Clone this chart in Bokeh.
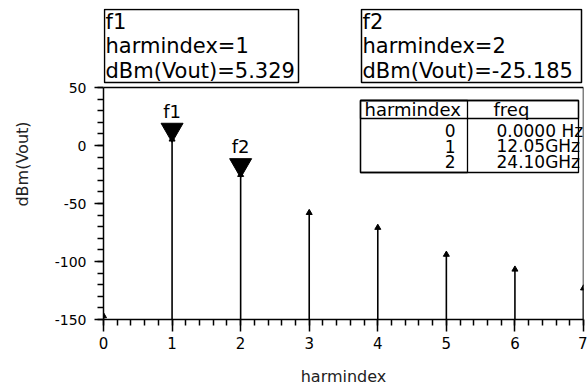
from bokeh.plotting import figure
from bokeh.models import (Range1d, SingleIntervalTicker, BoxAnnotation, Label, ColumnDataSource,
                          PrintfTickFormatter)
from bokeh.embed import file_html
from bokeh.resources import INLINE
from bokeh.core.properties import value

# ---------------- data ----------------
harmindex = [0, 1, 2, 3, 4, 5, 6, 7]
dbm_vout = [-147.0, 5.329, -25.185, -58.0, -70.8, -94.0, -106.8, -123.0]

marker_names = ["f1", "f2"]
marker_index = [1, 2]
marker_value = [5.329, -25.185]

readout_lines_f1 = ["f1", "harmindex=1", "dBm(Vout)=5.329"]
readout_lines_f2 = ["f2", "harmindex=2", "dBm(Vout)=-25.185"]

table_header = ["harmindex", "freq"]
table_harmindex = ["0", "1", "2"]
table_freq = ["0.0000 Hz", "12.05GHz", "24.10GHz"]

x_start, x_end = 0, 7
y_start, y_top = -150, 50

# ---------------- layout ----------------
W, H = 587, 390
L, R, T, B = 103, 4, 8, 71          # frame also holds the readout strip above the plot box
PLOT_TOP = 87                       # canvas y of the plot box top (y = 50)
FH = H - T - B
px_per_unit = (H - B - PLOT_TOP) / (y_top - y_start)
y_end = y_top + (PLOT_TOP - T) / px_per_unit
FONT = "DejaVu Sans"


def sx(cx):
    return cx - L


def sy(cy):
    return (H - B) - cy


p = figure(width=W, height=H, x_range=Range1d(x_start, x_end), y_range=Range1d(y_start, y_end),
           output_backend="svg", toolbar_location=None,
           min_border_left=L, min_border_right=R, min_border_top=T, min_border_bottom=B)
p.background_fill_color = "white"
p.border_fill_color = "white"
p.outline_line_color = None
p.xgrid.visible = False
p.ygrid.visible = False

p.xaxis.ticker = SingleIntervalTicker(interval=1, num_minor_ticks=5)
p.yaxis.ticker = SingleIntervalTicker(interval=50, num_minor_ticks=5)
p.yaxis.formatter = PrintfTickFormatter(format="%d")
p.yaxis.bounds = (y_start, y_top)
for ax in (p.xaxis, p.yaxis):
    ax.axis_line_color = "black"
    ax.axis_line_width = 1.5
    ax.major_tick_line_color = "black"
    ax.minor_tick_line_color = "black"
    ax.major_tick_line_width = 1.5
    ax.minor_tick_line_width = 1.5
    ax.major_tick_in = 0
    ax.minor_tick_in = 0
    ax.major_label_text_font = FONT
    ax.major_label_text_color = "black"
    ax.axis_label_text_font = FONT
    ax.axis_label_text_font_style = "normal"
    ax.axis_label_text_color = "#222222"
    ax.axis_label_text_font_size = "16px"

p.xaxis.major_tick_out = 12
p.xaxis.minor_tick_out = 6
p.xaxis.major_label_text_font_size = "15px"
p.xaxis.major_label_standoff = 5
p.xaxis.axis_label = "harmindex"
p.xaxis.axis_label_standoff = 15

p.yaxis.major_tick_out = 9
p.yaxis.minor_tick_out = 6
p.yaxis.major_label_text_font_size = "14px"
p.yaxis.major_label_standoff = 8
p.yaxis.axis_label = "dBm(Vout)"
p.yaxis.axis_label_standoff = 20

# plot box (top and right edges)
p.segment(x0=[x_start, x_end], y0=[y_top, y_start], x1=[x_end, x_end], y1=[y_top, y_top],
          line_color="black", line_width=1.5)

# stems
src = ColumnDataSource(dict(x=harmindex, y=dbm_vout, y0=[y_start] * len(harmindex)))
p.segment(x0="x", y0="y0", x1="x", y1="y", source=src, line_color="black", line_width=1.6)
p.scatter(x="x", y="y", source=src, marker="triangle", size=6, fill_color="black", line_color="black")

# markers (inverted triangles, tip just at/below the value)
msize = 22
tip_px = (msize / 2) * 3 ** 0.5 * 2 / 3 - 3
dy = tip_px / px_per_unit
msrc = ColumnDataSource(dict(x=marker_index, y=marker_value,
                             ym=[v + dy for v in marker_value], name=marker_names))
p.scatter(x="x", y="ym", source=msrc, marker="inverted_triangle", size=msize,
          fill_color="black", line_color="black")
p.text(x="x", y="y", text="name", source=msrc, text_align="center", text_baseline="alphabetic",
       y_offset=-28, text_font=value(FONT), text_font_size="18px", text_color="black")


def box(l, r, t, b, lw=1.5, fill=None):
    p.add_layout(BoxAnnotation(left=sx(l), right=sx(r), top=sy(t), bottom=sy(b),
                               left_units="screen", right_units="screen",
                               top_units="screen", bottom_units="screen",
                               fill_color=fill or "white", fill_alpha=1.0 if fill else 0.0,
                               line_color="black", line_alpha=1.0, line_width=lw))


def label(x, y, text, size, align="left", baseline="middle"):
    p.add_layout(Label(x=sx(x), y=sy(y), x_units="screen", y_units="screen", text=text,
                       text_font=FONT, text_font_size=size, text_color="black",
                       text_baseline=baseline, text_align=align))


# readout boxes above the plot box
def readout(left, right, lines):
    box(left, right, 9, 82, fill="white")
    for i, t in enumerate(lines):
        label(left + 1, 21 + 24.5 * i, t, "21px")


readout(104, 298, readout_lines_f1)
readout(361, 581, readout_lines_f2)

# table
for (l, r, t, b) in [(360, 578, 100, 172), (360, 578, 100, 118), (360, 467, 100, 172)]:
    box(l, r, t, b, lw=1.3)

label(364, 109, table_header[0], "18px")
label(493, 109, table_header[1], "18px")
for i, (hi, fq) in enumerate(zip(table_harmindex, table_freq)):
    yy = 130 + 15.5 * i
    label(455, yy, hi, "17px", align="right")
    label(496, yy, fq, "17px")

open("out.html", "w").write(file_html(p, INLINE))
